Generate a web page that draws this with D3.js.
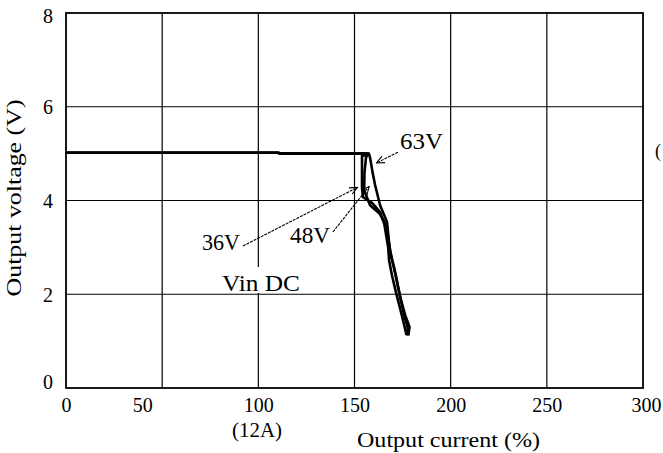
<!DOCTYPE html>
<html>
<head>
<meta charset="utf-8">
<script src="https://cdn.jsdelivr.net/npm/d3@7"></script>
<style>
  html, body { margin: 0; padding: 0; background: #fff; }
  svg { display: block; }
  text { font-family: "Liberation Serif", "DejaVu Serif", serif; fill: #000; }
</style>
</head>
<body>
<svg id="chart" width="663" height="453"></svg>
<script>
// Axis ticks
const xTicks = [0, 50, 100, 150, 200, 250, 300];
const yTicks = [0, 2, 4, 6, 8];

// Output characteristic for each input voltage: [output current %, output voltage V]
const curve36V = [
  [0, 5.02], [110, 5.02], [112, 5.0], [156, 5.0], [157.0, 4.98], [153.9, 4.95],
  [153.9, 4.27], [154.4, 4.07], [159.1, 3.95], [163.3, 3.75], [165.5, 3.5],
  [167.5, 3.0], [168.0, 2.72], [169.5, 2.4], [171.5, 2.05], [174.0, 1.65],
  [175.8, 1.35], [177.0, 1.13]
];
const curve48V = [
  [0, 5.02], [110, 5.02], [112, 5.0], [157, 5.0], [156.0, 4.92], [155.2, 4.6],
  [155.0, 4.22], [158.1, 3.9], [163.0, 3.72], [166.2, 3.5], [168.3, 3.0],
  [169.6, 2.72], [171.5, 2.4], [173.2, 2.05], [175.4, 1.62], [177.6, 1.3],
  [177.4, 1.12]
];
const curve63V = [
  [0, 5.02], [110, 5.02], [112, 5.0], [157.5, 5.0], [158.1, 4.91], [159.4, 4.6],
  [160.7, 4.33], [163.3, 3.9], [166.9, 3.54], [168.5, 2.9], [170.4, 2.6],
  [172.4, 2.2], [174.0, 1.9], [176.4, 1.55], [178.6, 1.3], [178.0, 1.12]
];
const seriesList = [curve36V, curve48V, curve63V];

// Callout labels, positions in data units
const callouts = [
  { text: "36V", tx: 70.7, ty: 2.94, len: 38, from: [92.0, 3.03],  to: [151.6, 4.28] },
  { text: "48V", tx: 116.5, ty: 3.09, len: 40, from: [138.8, 3.33], to: [157.6, 4.3] },
  { text: "63V", tx: 173.7, ty: 5.10, len: 43, from: [172.6, 5.03], to: [161.4, 4.8] }
];

const svg = d3.select("#chart");
const W = 663, H = 453;
const margin = { left: 66, right: 20, top: 13, bottom: 65 };
const x = d3.scaleLinear().domain([0, 300]).range([margin.left, W - margin.right]);
const y = d3.scaleLinear().domain([0, 8]).range([H - margin.bottom, margin.top]);

// Grid
const grid = svg.append("g");
grid.selectAll("line.v").data(xTicks.slice(1, -1)).enter().append("line")
  .attr("x1", d => x(d)).attr("x2", d => x(d))
  .attr("y1", y(8)).attr("y2", y(0))
  .attr("stroke", "#000").attr("stroke-width", 1.2);
grid.selectAll("line.h").data(yTicks.slice(1, -1)).enter().append("line")
  .attr("x1", x(0)).attr("x2", x(300))
  .attr("y1", d => y(d)).attr("y2", d => y(d))
  .attr("stroke", "#000").attr("stroke-width", 1.2);

// Frame
svg.append("rect")
  .attr("x", x(0)).attr("y", y(8))
  .attr("width", x(300) - x(0)).attr("height", y(0) - y(8))
  .attr("fill", "none").attr("stroke", "#000").attr("stroke-width", 1.8);

// Axes (labels only, the frame carries the lines)
const xAxis = d3.axisBottom(x).tickValues(xTicks).tickSize(0).tickPadding(10);
const gx = svg.append("g").attr("transform", `translate(0,${y(0)})`).call(xAxis);
gx.select(".domain").remove();
gx.selectAll("text").attr("font-size", 20).attr("font-family", "Liberation Serif")
  .attr("dx", d => d === 50 ? -20 : (d === 300 ? 3 : 0));

const yAxis = d3.axisLeft(y).tickValues(yTicks).tickSize(0).tickPadding(13);
const gy = svg.append("g").attr("transform", `translate(${x(0)},0)`).call(yAxis);
gy.select(".domain").remove();
gy.selectAll("text").attr("font-size", 20).attr("font-family", "Liberation Serif")
  .attr("dy", d => d === 0 ? "0.0em" : (d === 8 ? "0.45em" : "0.34em"));

// Axis titles
svg.append("text").attr("x", 257).attr("y", 437)
  .attr("text-anchor", "middle").attr("font-size", 20)
  .attr("textLength", 50).attr("lengthAdjust", "spacingAndGlyphs").text("(12A)");
svg.append("text").attr("x", 357).attr("y", 447)
  .attr("font-size", 21).attr("textLength", 183).attr("lengthAdjust", "spacingAndGlyphs")
  .text("Output current (%)");
svg.append("text")
  .attr("transform", `translate(21,198) rotate(-90)`)
  .attr("text-anchor", "middle").attr("font-size", 22)
  .attr("textLength", 197).attr("lengthAdjust", "spacingAndGlyphs")
  .text("Output voltage (V)");

// "Vin DC" note, sitting over the 100 % gridline
svg.append("rect").attr("x", 220).attr("y", 267).attr("width", 84).attr("height", 26)
  .attr("fill", "#fff");
svg.append("text").attr("x", 222).attr("y", 291)
  .attr("font-size", 23).attr("textLength", 78).attr("lengthAdjust", "spacingAndGlyphs").text("Vin DC");

// Curves
const line = d3.line().x(d => x(d[0])).y(d => y(d[1]));
svg.append("g").selectAll("path").data(seriesList).enter().append("path")
  .attr("d", line).attr("fill", "none").attr("stroke", "#000")
  .attr("stroke-width", 2.6).attr("stroke-linejoin", "round");

// Callouts with arrowheads
svg.append("defs").append("marker")
  .attr("id", "arr").attr("viewBox", "0 0 10 10").attr("refX", 9).attr("refY", 5)
  .attr("markerWidth", 9).attr("markerHeight", 9).attr("orient", "auto")
  .attr("markerUnits", "userSpaceOnUse")
  .append("path").attr("d", "M0,1 L9,5 L0,9").attr("fill", "none").attr("stroke", "#000").attr("stroke-width", 1.2);

const cg = svg.append("g");
callouts.forEach(c => {
  cg.append("line")
    .attr("x1", x(c.from[0])).attr("y1", y(c.from[1]))
    .attr("x2", x(c.to[0])).attr("y2", y(c.to[1]))
    .attr("stroke", "#000").attr("stroke-width", 1.1).attr("stroke-dasharray", "3,1")
    .attr("marker-end", "url(#arr)");
  cg.append("text").attr("x", x(c.tx)).attr("y", y(c.ty))
    .attr("font-size", 23).attr("textLength", c.len).attr("lengthAdjust", "spacingAndGlyphs")
    .text(c.text);
});

// Partial character at the right edge
svg.append("text").attr("x", 655).attr("y", 157).attr("font-size", 18).text("(");
</script>
</body>
</html>
